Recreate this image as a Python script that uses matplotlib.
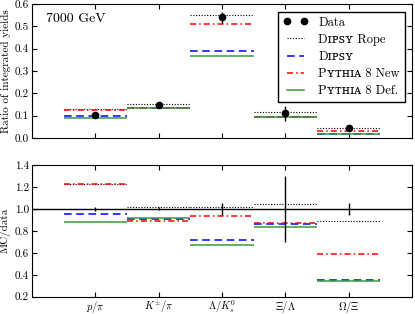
import matplotlib
matplotlib.use('Agg')
import matplotlib.pyplot as plt
from matplotlib.ticker import FormatStrFormatter
from matplotlib.lines import Line2D

plt.rcParams['font.family'] = ['cmr10', 'DejaVu Serif']
plt.rcParams['mathtext.fontset'] = 'cm'
plt.rcParams['axes.formatter.use_mathtext'] = True

# ratios, 7000 GeV
labels = [r'$p/\pi$', r'$K^{\pm}/\pi$', r'$\Lambda/K_s^0$', r'$\Xi/\Lambda$', r'$\Omega/\Xi$']
data = [0.103, 0.148, 0.541, 0.110, 0.046]
data_err = [0.004, 0.004, 0.025, 0.033, 0.003]
rope = [0.128, 0.150, 0.552, 0.114, 0.043]
dipsy = [0.098, 0.135, 0.389, 0.095, 0.016]
py_new = [0.127, 0.133, 0.510, 0.095, 0.030]
py_def = [0.090, 0.135, 0.365, 0.093, 0.016]

# MC / data
ratio_err = [0.02, 0.015, 0.054, 0.30, 0.052]
rope_r = [1.23, 1.018, 1.015, 1.048, 0.89]
dipsy_r = [0.952, 0.905, 0.72, 0.863, 0.35]
py_new_r = [1.23, 0.89, 0.937, 0.872, 0.59]
py_def_r = [0.878, 0.914, 0.669, 0.839, 0.346]

x = [1, 2, 3, 4, 5]
styles = [
    ('D\u026a\u1d18\ua731\u028f Rope', 'black', (0, (1, 1.5)), 0.8),
    ('D\u026a\u1d18\ua731\u028f', 'blue', (0, (5, 3)), 1.1),
    ('P\u028f\u1d1b\u029c\u026a\u1d00 8 New', 'red', (0, (4, 2, 1, 2)), 1.1),
    ('P\u028f\u1d1b\u029c\u026a\u1d00 8 Def.', '#3a9a3a', '-', 1.1),
]

fig = plt.figure(figsize=(4.15, 3.14), dpi=100)
ax1 = fig.add_axes([0.077, 0.561, 0.916, 0.426])
ax2 = fig.add_axes([0.077, 0.055, 0.916, 0.420])

ax1.errorbar(x, data, yerr=data_err, fmt='o', color='black', ms=4.5, lw=1,
             capsize=0, zorder=5)
handles = [Line2D([], [], marker='o', ls='none', color='black', ms=4.5)]
for (name, col, ls, lw), vals in zip(styles, [rope, dipsy, py_new, py_def]):
    ax1.hlines(vals, [i - 0.5 for i in x], [i + 0.5 for i in x], colors=col,
               linestyles=ls, lw=lw)
    handles.append(Line2D([], [], color=col, ls=ls, lw=lw))

ax2.axhline(1.0, color='black', lw=1)
ax2.errorbar(x, [1.0] * 5, yerr=ratio_err, fmt='none', ecolor='black', lw=1, zorder=5)
for (name, col, ls, lw), vals in zip(styles, [rope_r, dipsy_r, py_new_r, py_def_r]):
    ax2.hlines(vals, [i - 0.5 for i in x], [i + 0.5 for i in x], colors=col,
               linestyles=ls, lw=lw)

ax1.set_xlim(0, 6)
ax1.set_xticks(x)
ax1.set_xticklabels([])
ax1.set_yticks([0.0, 0.1, 0.2, 0.3, 0.4, 0.5, 0.6])
ax1.set_ylim(0, 0.6)
ax1.yaxis.set_major_formatter(FormatStrFormatter('%.1f'))
ax1.set_ylabel('Ratio of integrated yields', fontsize=8, labelpad=3)
ax1.text(0.22, 0.533, '7000 GeV', fontsize=10, va='center')
ax1.legend(handles, ['Data'] + [s[0] for s in styles], loc='upper right', numpoints=2,
           fontsize=9, frameon=True, fancybox=False, edgecolor='black', framealpha=1,
           handlelength=2.0, borderaxespad=0.6, labelspacing=0.4)

ax2.set_xlim(0, 6)
ax2.set_xticks(x)
ax2.set_xticklabels(labels, fontsize=7.5)
ax2.set_yticks([0.2, 0.4, 0.6, 0.8, 1.0, 1.2, 1.4])
ax2.set_ylim(0.2, 1.4)
ax2.yaxis.set_major_formatter(FormatStrFormatter('%.1f'))
ax2.set_ylabel('MC/data', fontsize=8, labelpad=3)

for ax in (ax1, ax2):
    ax.tick_params(direction='in', top=True, right=True, labelsize=8, length=3.5, pad=2)
ax2.tick_params(axis='x', pad=1.5, labelsize=7.5)

plt.savefig('out.png')
